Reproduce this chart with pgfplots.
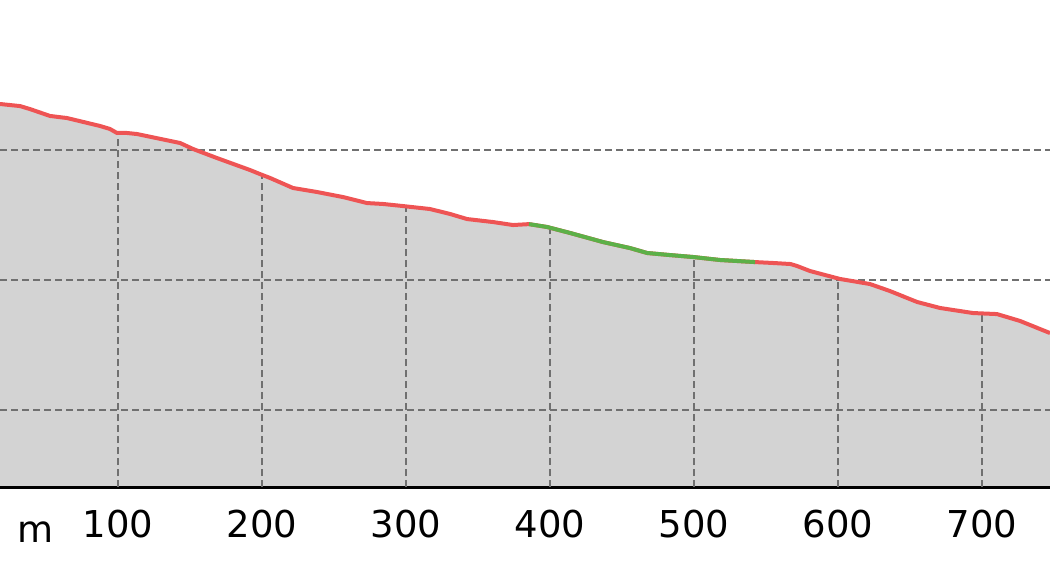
\documentclass[border=0pt]{standalone}
\usepackage{fontspec}
\setmainfont{DejaVu Sans}
\usepackage{pgfplots}
\usepackage{pgfplotstable}
\pgfplotsset{compat=1.18}

\definecolor{profred}{RGB}{238,84,84}
\definecolor{profgreen}{RGB}{92,176,72}
\definecolor{proffill}{RGB}{211,211,211}
\definecolor{gridgray}{RGB}{112,112,112}

% distance (m) / elevation (arbitrary units, grid at 10/20/30)
\pgfplotstableread{
x y
18.1 33.54
32.0 33.38
38.9 33.15
52.8 32.62
64.6 32.46
87.5 31.85
94.4 31.62
99.3 31.31
106.3 31.31
113.2 31.23
143.1 30.54
152.1 30.08
168.8 29.38
191.7 28.46
198.6 28.15
205.6 27.85
221.5 27.08
238.2 26.77
256.3 26.38
272.9 25.92
284.0 25.85
297.9 25.69
316.7 25.46
330.6 25.08
342.4 24.69
360.4 24.46
374.3 24.23
385.4 24.30
397.9 24.08
413.9 23.62
436.8 22.92
455.5 22.46
467.4 22.08
483.3 21.92
499.3 21.77
518.1 21.54
542.4 21.38
554.9 21.31
567.0 21.23
571.5 21.08
580.6 20.69
601.4 20.08
622.2 19.69
636.1 19.15
654.9 18.31
670.8 17.85
693.7 17.46
710.4 17.38
726.4 16.85
747.2 15.92
}\profile

% tops of the vertical grid lines (they stop at the profile)
\pgfplotstableread{
x y
100 31.30
200 28.10
300 25.70
400 24.00
500 21.77
600 20.20
700 17.45
}\vgrid

\begin{document}
\begin{tikzpicture}
\begin{axis}[
  set layers,
  scale only axis,
  width=525pt, height=243.5pt,
  xmin=18.06, xmax=747.2,
  ymin=4.077, ymax=41.54,
  axis x line=bottom,
  axis y line=left,
  x axis line style={-, line width=1.5pt, black},
  y axis line style={draw=none},
  xtick={100,200,...,700},
  ytick={10,20,30},
  yticklabels={},
  major tick length=0pt,
  ymajorgrids=true,
  grid style={gridgray, line width=0.75pt, dash pattern=on 3.5pt off 2pt},
  tick label style={font=\fontsize{18.5}{22}\selectfont},
  xticklabel style={yshift=-8pt},
  /pgf/number format/assume math mode=true,
]
\addplot[on layer=axis background, fill=proffill, draw=none] table {\profile} \closedcycle;
\addplot[ycomb, gridgray, line width=0.75pt, dash pattern=on 3.5pt off 2pt, mark=none] table {\vgrid};
\addplot[profred, line width=2pt, line join=round] table {\profile};
\addplot[profgreen, line width=2pt, line join=round, restrict x to domain=385.4:542.4] table {\profile};
\end{axis}
\node[font=\fontsize{18.5}{22}\selectfont, anchor=base] at ([xshift=18pt, yshift=-27.5pt]current axis.south west) {m};
\pgfresetboundingbox
\path[use as bounding box] ([yshift=-36.5pt]current axis.south west) rectangle (current axis.north east);
\end{tikzpicture}
\end{document}
